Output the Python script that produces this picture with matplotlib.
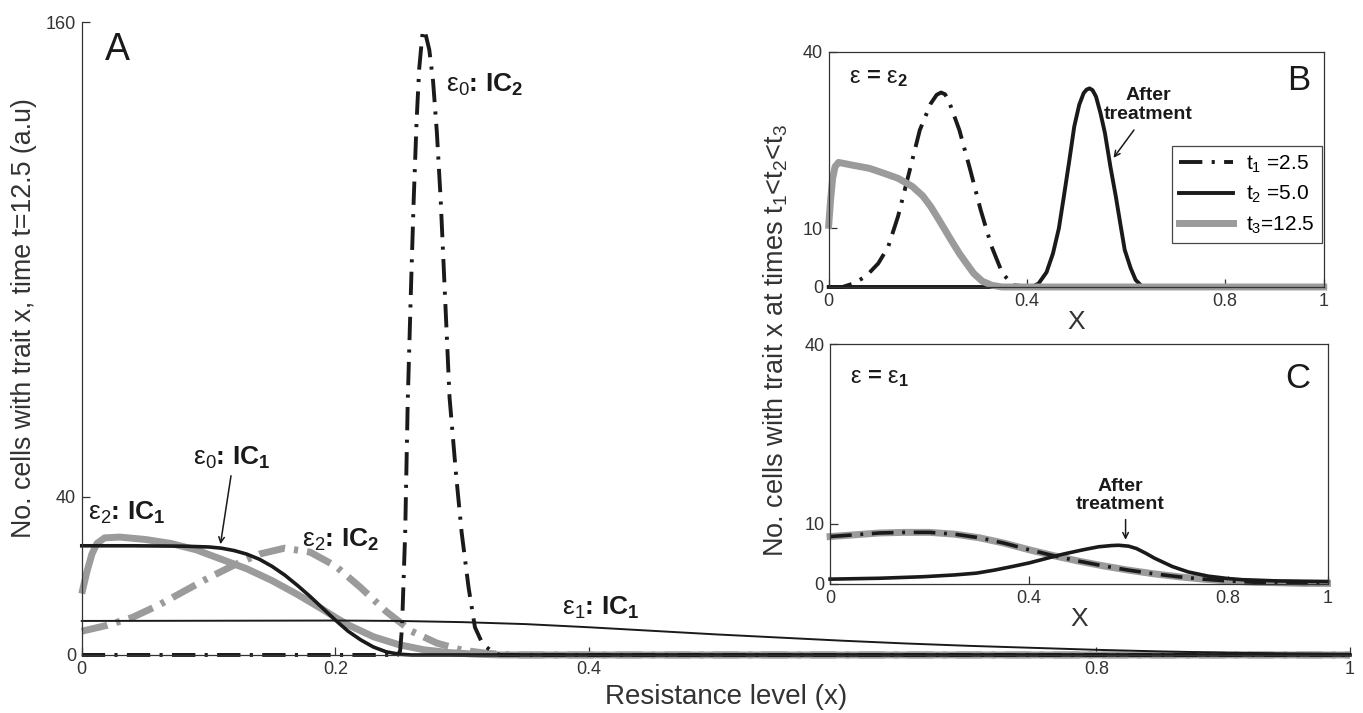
import matplotlib
matplotlib.use('Agg')
import matplotlib.pyplot as plt

plt.rcParams['font.family'] = ['Liberation Sans', 'DejaVu Sans']
plt.rcParams['mathtext.fontset'] = 'custom'
plt.rcParams['mathtext.rm'] = 'Liberation Sans'
plt.rcParams['mathtext.it'] = 'Liberation Sans:italic'
plt.rcParams['mathtext.bf'] = 'Liberation Sans:bold'

# ---- panel A: t = 12.5, resistance level vs no. of cells ----
e0_ic1_x = [0, 0.04, 0.08, 0.1, 0.11, 0.12, 0.13, 0.14, 0.15, 0.16, 0.17, 0.18, 0.19,
            0.2, 0.21, 0.22, 0.23, 0.24, 0.25, 0.26, 1.0]
e0_ic1_y = [27.6, 27.6, 27.5, 27.3, 27.0, 26.4, 25.5, 24.2, 22.4, 20.2, 17.6, 14.8, 11.8,
            8.8, 6.0, 3.8, 2.0, 0.8, 0.2, 0, 0]

e2_ic1_x = [0, 0.004, 0.008, 0.012, 0.018, 0.03, 0.05, 0.07, 0.09, 0.11, 0.13, 0.15, 0.17,
            0.19, 0.2, 0.21, 0.23, 0.25, 0.27, 0.29, 0.31, 0.33, 1]
e2_ic1_y = [15.5, 21, 25.5, 28.2, 29.6, 29.8, 29.2, 28.2, 26.6, 24.2, 21.8, 18.8, 15.3,
            11.5, 9.5, 7.6, 4.6, 2.6, 1.3, 0.6, 0.2, 0, 0]

e2_ic2_x = [0, 0.02, 0.04, 0.06, 0.08, 0.1, 0.12, 0.14, 0.16, 0.18, 0.2, 0.22, 0.24,
            0.26, 0.28, 0.3, 0.32, 0.34, 1]
e2_ic2_y = [6, 7.5, 9.5, 12.5, 16, 19.5, 22.7, 25.5, 27, 26, 22.5, 17, 11,
            6, 3, 1.2, 0.4, 0, 0]

e1_ic1_x = [0, 0.2, 0.25, 0.3, 0.35, 0.4, 0.45, 0.5, 0.55, 0.6, 0.65, 0.7, 0.75,
            0.8, 0.85, 0.9, 0.95, 1.0]
e1_ic1_y = [8.6, 8.7, 8.6, 8.3, 7.8, 7.0, 6.1, 5.2, 4.4, 3.6, 2.9, 2.3, 1.8,
            1.3, 0.9, 0.6, 0.4, 0.3]

e0_ic2_x = [0, 0.249, 0.251, 0.2525, 0.255, 0.257, 0.2595, 0.2617, 0.264, 0.266, 0.268,
            0.269, 0.271, 0.274, 0.277, 0.28, 0.283, 0.2865, 0.29, 0.295, 0.2995, 0.305,
            0.31, 0.315, 0.319, 0.325, 0.33, 1]
e0_ic2_y = [0, 0, 1, 7, 31, 64, 92, 115, 135, 148, 155,
            158, 157, 153, 145, 132, 115, 90, 65, 46, 31, 17,
            7, 3.5, 2, 0.5, 0, 0]

# ---- panel B: eps = eps2 ----
b_t1_x = [0, 0.028, 0.05, 0.075, 0.1, 0.12, 0.14, 0.162, 0.184, 0.206, 0.218, 0.227, 0.235,
          0.242, 0.264, 0.286, 0.307, 0.329, 0.351, 0.373, 0.41, 1]
b_t1_y = [0, 0, 0.6, 1.8, 4.0, 6.8, 12, 19.3, 26.7, 31.2, 32.7, 33.1, 32.8,
          31.8, 26.7, 19.9, 13.1, 6.9, 2.3, 0.3, 0, 0]
b_t2_x = [0, 0.41, 0.424, 0.44, 0.453, 0.465, 0.475, 0.486, 0.496, 0.506, 0.515, 0.521,
          0.527, 0.533, 0.54, 0.549, 0.558, 0.569, 0.58, 0.59, 0.598, 0.61, 0.62, 0.634, 1]
b_t2_y = [0, 0, 0.6, 2.5, 5.7, 10, 15.4, 21.5, 27.3, 31, 33, 33.6,
          33.8, 33.5, 32.4, 29.6, 26.2, 20.5, 15.4, 10.3, 6.3, 3.2, 1.2, 0, 0]
b_t3_x = [0, 0.004, 0.008, 0.013, 0.02, 0.05, 0.082, 0.11, 0.14, 0.169, 0.19, 0.206,
          0.22, 0.235, 0.25, 0.264, 0.28, 0.293, 0.31, 0.329, 0.35, 1]
b_t3_y = [10.5, 15, 18.5, 20.5, 21.2, 20.7, 20.2, 19.4, 18.5, 17.1, 15.5, 13.7,
          11.8, 9.7, 7.6, 5.7, 3.8, 2.3, 1.0, 0.3, 0, 0]

# ---- panel C: eps = eps1 (t1 and t3 coincide) ----
c_t13_x = [0, 0.05, 0.1, 0.15, 0.2, 0.25, 0.3, 0.35, 0.4, 0.45, 0.5, 0.55, 0.6, 0.65,
           0.7, 0.75, 0.8, 0.85, 0.9, 0.95, 1]
c_t13_y = [7.9, 8.2, 8.5, 8.6, 8.6, 8.3, 7.7, 6.8, 5.7, 4.7, 3.8, 3.0, 2.3, 1.7,
           1.2, 0.8, 0.5, 0.3, 0.2, 0.1, 0.1]
c_t2_x = [0, 0.1, 0.186, 0.25, 0.294, 0.33, 0.366, 0.4, 0.437, 0.47, 0.509, 0.54, 0.566,
          0.58, 0.6, 0.616, 0.635, 0.652, 0.67, 0.688, 0.72, 0.76, 0.8, 0.83, 0.9, 1]
c_t2_y = [0.8, 0.95, 1.2, 1.5, 1.8, 2.3, 2.9, 3.5, 4.3, 5.0, 5.7, 6.2, 6.4,
          6.45, 6.3, 5.9, 5.1, 4.3, 3.6, 2.9, 2.0, 1.3, 0.9, 0.7, 0.5, 0.4]

main_xticks = [0, 0.2, 0.4, 0.8, 1]
main_xticklabels = ['0', '0.2', '0.4', '0.8', '1']
main_yticks = [0, 40, 160]
inset_xticks = [0, 0.4, 0.8, 1]
inset_xticklabels = ['0', '0.4', '0.8', '1']
inset_yticks = [0, 10, 40]
legend_labels = [r't$_1$ =2.5', r't$_2$ =5.0', r't$_3$=12.5']

BLACK = '#1a1a1a'
GRAY = '#9b9b9b'
DASHDOT = (0, (6, 2.4, 0.8, 2.4))
GRAY_DASHDOT = (0, (3.8, 1.3, 0.6, 1.3))


def style_axes(ax, box):
    for s in ['top', 'right']:
        ax.spines[s].set_visible(box)
    for s in ax.spines.values():
        s.set_linewidth(0.9)
        s.set_color('#333333')
    ax.tick_params(direction='in', length=6, width=0.9, labelsize=13,
                   colors='#333333', pad=4)


fig = plt.figure(figsize=(13.63, 7.13), dpi=100)

# main panel
ax = fig.add_axes([0.060, 0.0814, 0.9305, 0.8877])
ax.plot(e2_ic1_x, e2_ic1_y, color=GRAY, lw=5, clip_on=False, solid_capstyle='butt')
ax.plot(e2_ic2_x, e2_ic2_y, color=GRAY, lw=5, ls=GRAY_DASHDOT, clip_on=False)
ax.plot(e1_ic1_x, e1_ic1_y, color=BLACK, lw=1.4, clip_on=False)
ax.plot(e0_ic1_x, e0_ic1_y, color=BLACK, lw=2.6, clip_on=False)
ax.plot(e0_ic2_x, e0_ic2_y, color=BLACK, lw=2.8, ls=DASHDOT, clip_on=False)
ax.set_xlim(0, 1)
ax.set_ylim(0, 160)
ax.set_xticks(main_xticks)
ax.set_xticklabels(main_xticklabels)
ax.set_yticks(main_yticks)
style_axes(ax, False)

lab = dict(fontsize=19, fontweight='bold', color=BLACK, va='center')
ax.text(0.028, 153, 'A', fontsize=27, ha='center', va='center', color=BLACK)
ax.text(0.287, 144, r'$\mathrm{\varepsilon}_\mathrm{0}$: IC$_\mathbf{2}$', ha='left', **lab)
ax.text(0.0875, 49.8, r'$\mathrm{\varepsilon}_\mathrm{0}$: IC$_\mathbf{1}$', ha='left', **lab)
ax.text(0.005, 35.9, r'$\mathrm{\varepsilon}_\mathrm{2}$: IC$_\mathbf{1}$', ha='left', **lab)
ax.text(0.174, 29.1, r'$\mathrm{\varepsilon}_\mathrm{2}$: IC$_\mathbf{2}$', ha='left', **lab)
ax.text(0.379, 11.9, r'$\mathrm{\varepsilon}_\mathrm{1}$: IC$_\mathbf{1}$', ha='left', **lab)
ax.annotate('', xy=(0.109, 27.3), xytext=(0.118, 46),
            arrowprops=dict(arrowstyle='->', color=BLACK, lw=1.1))

fig.text(0.533, 0.0225, 'Resistance level (x)', fontsize=20, ha='center', va='center',
         color='#333333')
fig.text(0.0176, 0.554, 'No. cells with trait x, time t=12.5 (a.u)', fontsize=19.3,
         rotation=90, ha='center', va='center', color='#333333')

# inset B
axb = fig.add_axes([0.608, 0.5975, 0.3632, 0.3296])
axb.plot(b_t1_x, b_t1_y, color=BLACK, lw=2.8, ls=DASHDOT, clip_on=False, label=legend_labels[0])
axb.plot(b_t2_x, b_t2_y, color=BLACK, lw=2.8, clip_on=False, label=legend_labels[1])
axb.plot(b_t3_x, b_t3_y, color=GRAY, lw=5, clip_on=False, label=legend_labels[2])
axb.set_xlim(0, 1)
axb.set_ylim(0, 40)
axb.set_xticks(inset_xticks)
axb.set_xticklabels(inset_xticklabels)
axb.set_yticks(inset_yticks)
style_axes(axb, True)
axb.set_xlabel('X', fontsize=19, labelpad=0, color='#333333')
axb.text(0.042, 35.6, r'$\mathrm{\varepsilon}$ = $\mathrm{\varepsilon}_\mathbf{2}$',
         fontsize=17, fontweight='bold', ha='left', va='center', color=BLACK)
axb.text(0.95, 35.2, 'B', fontsize=25, ha='center', va='center', color=BLACK)
axb.text(0.645, 31, 'After\ntreatment', fontsize=14, fontweight='bold', ha='center',
         va='center', linespacing=1.1, color=BLACK)
axb.annotate('', xy=(0.572, 21.6), xytext=(0.62, 27.1),
             arrowprops=dict(arrowstyle='->', color=BLACK, lw=1.1))
leg = axb.legend(loc='upper right', bbox_to_anchor=(0.996, 0.6), fontsize=15,
                 frameon=True, fancybox=False, handlelength=2.6, borderpad=0.35,
                 labelspacing=0.45, handletextpad=0.6, borderaxespad=0)
leg.get_frame().set_edgecolor(BLACK)
leg.get_frame().set_linewidth(0.9)

# inset C
axc = fig.add_axes([0.609, 0.181, 0.365, 0.3365])
axc.plot(c_t13_x, c_t13_y, color=GRAY, lw=5, clip_on=False)
axc.plot(c_t13_x, c_t13_y, color=BLACK, lw=2.6, ls=DASHDOT, clip_on=False)
axc.plot(c_t2_x, c_t2_y, color=BLACK, lw=2.6, clip_on=False)
axc.set_xlim(0, 1)
axc.set_ylim(0, 40)
axc.set_xticks(inset_xticks)
axc.set_xticklabels(inset_xticklabels)
axc.set_yticks(inset_yticks)
style_axes(axc, True)
axc.set_xlabel('X', fontsize=19, labelpad=0, color='#333333')
axc.text(0.04, 34.5, r'$\mathrm{\varepsilon}$ = $\mathrm{\varepsilon}_\mathbf{1}$',
         fontsize=17, fontweight='bold', ha='left', va='center', color=BLACK)
axc.text(0.94, 34.3, 'C', fontsize=25, ha='center', va='center', color=BLACK)
axc.text(0.584, 14.7, 'After\ntreatment', fontsize=14, fontweight='bold', ha='center',
         va='center', linespacing=1.1, color=BLACK)
axc.annotate('', xy=(0.594, 6.9), xytext=(0.594, 11.2),
             arrowprops=dict(arrowstyle='->', color=BLACK, lw=1.1))

fig.text(0.569, 0.522, r'No. cells with trait x at times t$_1$<t$_2$<t$_3$', fontsize=19.5,
         rotation=90, ha='center', va='center', color='#333333')

fig.savefig('out.png', dpi=100)
